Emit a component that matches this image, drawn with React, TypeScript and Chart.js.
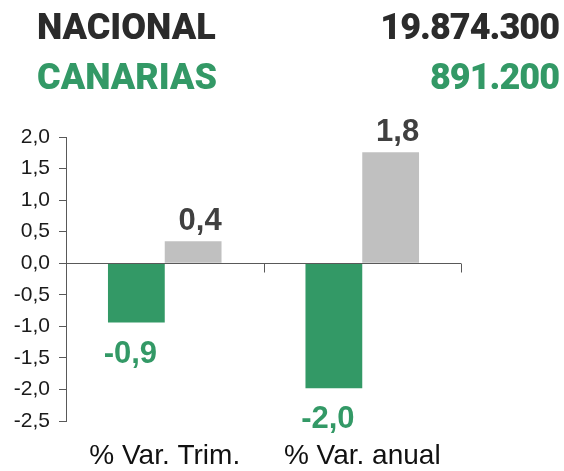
import React, { useEffect, useRef } from "react";
import { Chart, registerables } from "chart.js";

Chart.register(...registerables);

// ---- data ----
const categories = ["% Var. Trim.", "% Var. anual"];
const seriesNames = ["Canarias", "Nacional"];
const canariasValues = [-0.94, -1.98];
const nacionalValues = [0.35, 1.76];
const headerLabels = ["NACIONAL", "CANARIAS"];
const headerValues = ["19.874.300", "891.200"];
const yMin = -2.5;
const yMax = 2.0;
const yStep = 0.5;

const GREEN = "#339966";
const GRAY = "#c0c0c0";
const DARK = "#2b2b2b";
const AXIS = "#595959";

const fmt = (v: number) => (Math.round(v * 10) / 10).toFixed(1).replace(".", ",");

const valueLabelPlugin = {
  id: "valueLabels",
  afterDatasetsDraw(chart: any) {
    const ctx = chart.ctx;
    const colors = [GREEN, "#404040"];
    ctx.save();
    chart.data.datasets.forEach((ds: any, di: number) => {
      const meta = chart.getDatasetMeta(di);
      meta.data.forEach((bar: any, i: number) => {
        const v = ds.data[i] as number;
        ctx.font = "bold 31px 'Liberation Sans', Arial, sans-serif";
        ctx.fillStyle = colors[di];
        ctx.textAlign = "center";
        ctx.textBaseline = "alphabetic";
        const y = v >= 0 ? bar.y - 11 : bar.y + 18 + 22;
        const dx = v >= 0 ? 7 : -6;
        ctx.fillText(fmt(v), bar.x + dx, y);
      });
    });
    ctx.restore();
  },
};

const zeroLinePlugin = {
  id: "zeroLine",
  afterDatasetsDraw(chart: any) {
    const ctx = chart.ctx;
    const ys = chart.scales.y;
    const xs = chart.scales.x;
    const y0 = Math.round(ys.getPixelForValue(0)) + 0.5;
    const { left, right } = chart.chartArea;
    ctx.save();
    ctx.strokeStyle = AXIS;
    ctx.lineWidth = 1;
    ctx.beginPath();
    ctx.moveTo(left, y0);
    ctx.lineTo(right, y0);
    const n = chart.data.labels.length;
    for (let i = 1; i <= n; i++) {
      const x = Math.round(xs.getPixelForValue(i - 0.5)) + 0.5;
      ctx.moveTo(x, y0);
      ctx.lineTo(x, y0 + 9);
    }
    ctx.stroke();
    ctx.restore();
  },
};

export default function App() {
  const canvasRef = useRef<HTMLCanvasElement | null>(null);

  useEffect(() => {
    if (!canvasRef.current) return;
    const chart = new Chart(canvasRef.current, {
      type: "bar",
      data: {
        labels: categories,
        datasets: [
          {
            label: seriesNames[0],
            data: canariasValues,
            backgroundColor: GREEN,
            barPercentage: 1,
            categoryPercentage: 0.575,
          },
          {
            label: seriesNames[1],
            data: nacionalValues,
            backgroundColor: GRAY,
            barPercentage: 1,
            categoryPercentage: 0.575,
          },
        ],
      },
      options: {
        responsive: false,
        animation: false,
        layout: { padding: { top: 137, right: 103, left: 0, bottom: 0 } },
        plugins: {
          legend: { display: false },
          tooltip: { enabled: false },
          title: { display: false },
        },
        scales: {
          x: {
            grid: { display: false, drawTicks: false },
            border: { display: false },
            ticks: {
              padding: 18,
              color: "#111111",
              font: { family: "'Liberation Sans', Arial, sans-serif", size: 28 },
              maxRotation: 0,
            },
            afterFit: (s: any) => {
              s.height = 50;
            },
          },
          y: {
            min: yMin,
            max: yMax,
            ticks: {
              stepSize: yStep,
              padding: 9,
              color: "#1a1a1a",
              font: { family: "'Liberation Sans', Arial, sans-serif", size: 21 },
              callback: (v: any) => fmt(Number(v)),
            },
            grid: {
              drawOnChartArea: false,
              drawTicks: true,
              tickLength: 7,
              color: AXIS,
            },
            border: { display: true, color: AXIS },
            afterFit: (s: any) => {
              s.width = 66;
            },
          },
        },
      },
      plugins: [valueLabelPlugin, zeroLinePlugin],
    });
    return () => chart.destroy();
  }, []);

  const headStyle = (row: number, color: string): React.CSSProperties => ({
    position: "absolute",
    top: 9 + row * 50,
    fontFamily: "Roboto, 'Liberation Sans', Arial, sans-serif",
    fontWeight: 900,
    fontSize: 36,
    lineHeight: "36px",
    color,
    whiteSpace: "nowrap",
  });

  return (
    <div style={{ position: "absolute", left: 0, top: 0, width: 564, height: 471, background: "#fff" }}>
      <canvas ref={canvasRef} width={564} height={471} style={{ position: "absolute", left: 0, top: 0, width: 564, height: 471 }} />
      {headerLabels.map((lab, i) => (
        <React.Fragment key={lab}>
          <div style={{ ...headStyle(i, i === 0 ? DARK : GREEN), left: 37 }}>{lab}</div>
          <div style={{ ...headStyle(i, i === 0 ? DARK : GREEN), right: 5, textAlign: "right", letterSpacing: -1 }}>{headerValues[i]}</div>
        </React.Fragment>
      ))}
    </div>
  );
}
